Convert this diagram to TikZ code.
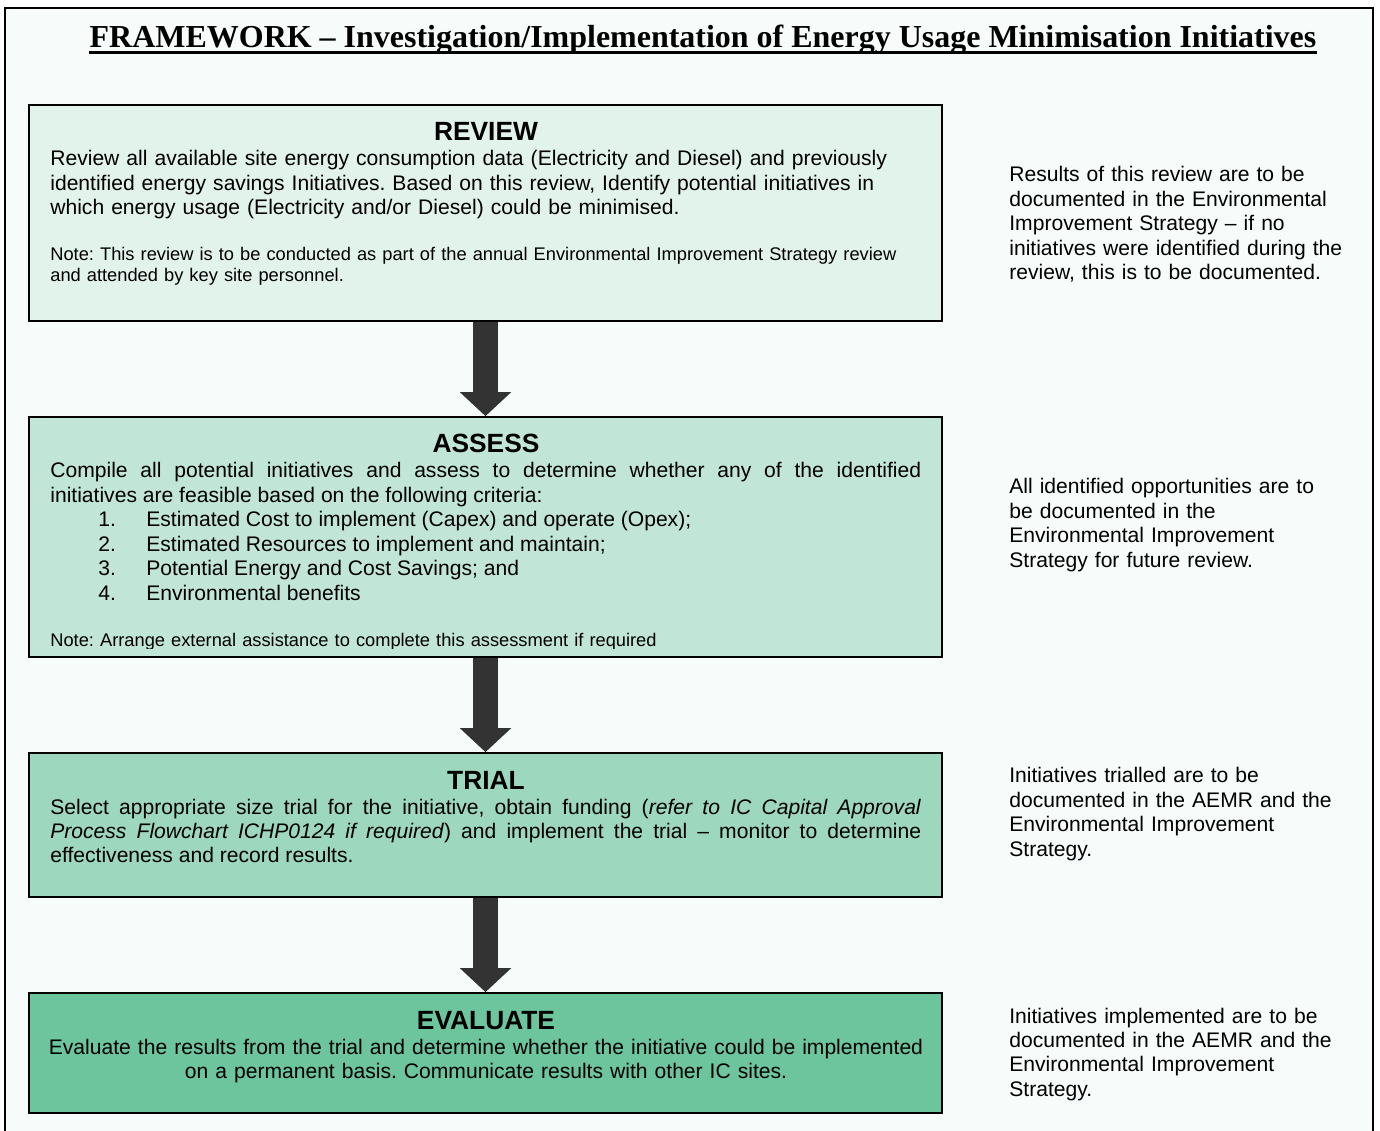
\documentclass[tikz,border=0pt]{standalone}
\usepackage{fontspec}
\setmainfont{Liberation Serif}
\setsansfont{Liberation Sans}
\usetikzlibrary{arrows.meta}
\frenchspacing

\definecolor{pagebg}{HTML}{F7FBFA}
\definecolor{reviewfill}{HTML}{E2F3EC}
\definecolor{assessfill}{HTML}{C1E6D8}
\definecolor{trialfill}{HTML}{9DD8BE}
\definecolor{evalfill}{HTML}{6DC59E}
\definecolor{arrowgray}{HTML}{333333}

\tikzset{
  stepbox/.style={draw=black, line width=1pt, inner sep=0, minimum width=18.26cm},
  stephead/.style={font=\sffamily\bfseries\fontsize{15}{18}\selectfont, inner sep=0, anchor=base},
  stepbody/.style={font=\sffamily\fontsize{12}{13.9}\selectfont, inner sep=0, anchor=base west, text width=17.42cm},
  stepnote/.style={font=\sffamily\fontsize{10.4}{11.9}\selectfont, inner sep=0, anchor=base west, text width=17.42cm, align=left},
  sidenote/.style={font=\sffamily\fontsize{12}{13.9}\selectfont, inner sep=0, anchor=base west, text width=7cm, align=left},
  flowarrow/.style={draw=arrowgray, line width=0.5cm, -{Triangle[length=0.48cm,width=1cm]}}
}

\begin{document}
\begin{tikzpicture}[x=0.02cm,y=-0.02cm]
    \useasboundingbox (0,0) rectangle (1380,1131);
    \fill[white] (0,0) rectangle (1380,1131);
    \fill[pagebg] (5,8) rectangle (1373,1131);
    \draw[line width=1.2pt] (5,1131) -- (5,8) -- (1373,8) -- (1373,1131);

    % title
    \node[font=\bfseries\fontsize{18.2}{21}\selectfont, inner sep=0, anchor=base] (title) at (703,48)
        {FRAMEWORK -- Investigation/Implementation of Energy Usage Minimisation Initiatives};
    \draw[line width=1.6pt] ([yshift=-2.6pt]title.base west) -- ([yshift=-2.6pt]title.base east);

    % boxes
    \node[stepbox, fill=reviewfill, minimum height=4.32cm] (review) at (485.5,213) {};
    \node[stepbox, fill=assessfill, minimum height=4.8cm] (assess) at (485.5,537) {};
    \node[stepbox, fill=trialfill, minimum height=2.88cm] (trial) at (485.5,825) {};
    \node[stepbox, fill=evalfill, minimum height=2.4cm] (evaluate) at (485.5,1053) {};

    \draw[flowarrow] (review.south) -- (assess.north);
    \draw[flowarrow] (assess.south) -- (trial.north);
    \draw[flowarrow] (trial.south) -- (evaluate.north);

    % REVIEW
    \node[stephead] (reviewhead) at (486,141) {REVIEW};
    \node[stepbody, align=left] (reviewtext) at (50,166)
        {Review all available site energy consumption data (Electricity and Diesel) and previously\\
         identified energy savings Initiatives. Based on this review, Identify potential initiatives in\\
         which energy usage (Electricity and/or Diesel) could be minimised.};
    \node[stepnote] (reviewnote) at (50,261)
        {Note: This review is to be conducted as part of the annual Environmental Improvement Strategy review\\
         and attended by key site personnel.};

    % ASSESS
    \node[stephead] (assesshead) at (486,453) {ASSESS};
    \node[stepbody, align=justify] (assesstext) at (50,478)
        {Compile all potential initiatives and assess to determine whether any of the identified\linebreak
         initiatives are feasible based on the following criteria:\\
         \hspace*{0.96cm}\makebox[0.96cm][l]{1.}Estimated Cost to implement (Capex) and operate (Opex);\\
         \hspace*{0.96cm}\makebox[0.96cm][l]{2.}Estimated Resources to implement and maintain;\\
         \hspace*{0.96cm}\makebox[0.96cm][l]{3.}Potential Energy and Cost Savings; and\\
         \hspace*{0.96cm}\makebox[0.96cm][l]{4.}Environmental benefits};
    \begin{scope}
        \clip (29,417) rectangle (942,648.5);
        \node[stepnote] (assessnote) at (50,647)
            {Note: Arrange external assistance to complete this assessment if required};
    \end{scope}

    % TRIAL
    \node[stephead] (trialhead) at (486,789) {TRIAL};
    \node[stepbody, align=justify] (trialtext) at (50,814)
        {Select appropriate size trial for the initiative, obtain funding (\textit{refer to IC Capital Approval}\linebreak
         \textit{Process Flowchart ICHP0124 if required}) and implement the trial -- monitor to determine\linebreak
         effectiveness and record results.};

    % EVALUATE
    \node[stephead] (evaluatehead) at (486,1029) {EVALUATE};
    \node[stepbody, text width=18cm, align=center, anchor=base] (evaluatetext) at (486,1054)
        {Evaluate the results from the trial and determine whether the initiative could be implemented\\
         on a permanent basis. Communicate results with other IC sites.};

    % side notes
    \node[sidenote] (reviewside) at (1009,182)
        {Results of this review are to be\\documented in the Environmental\\Improvement Strategy -- if no\\
         initiatives were identified during the\\review, this is to be documented.};
    \node[sidenote] (assessside) at (1009,494)
        {All identified opportunities are to\\be documented in the\\Environmental Improvement\\Strategy for future review.};
    \node[sidenote] (trialside) at (1009,783)
        {Initiatives trialled are to be\\documented in the AEMR and the\\Environmental Improvement\\Strategy.};
    \node[sidenote] (evaluateside) at (1009,1023)
        {Initiatives implemented are to be\\documented in the AEMR and the\\Environmental Improvement\\Strategy.};
\end{tikzpicture}
\end{document}
